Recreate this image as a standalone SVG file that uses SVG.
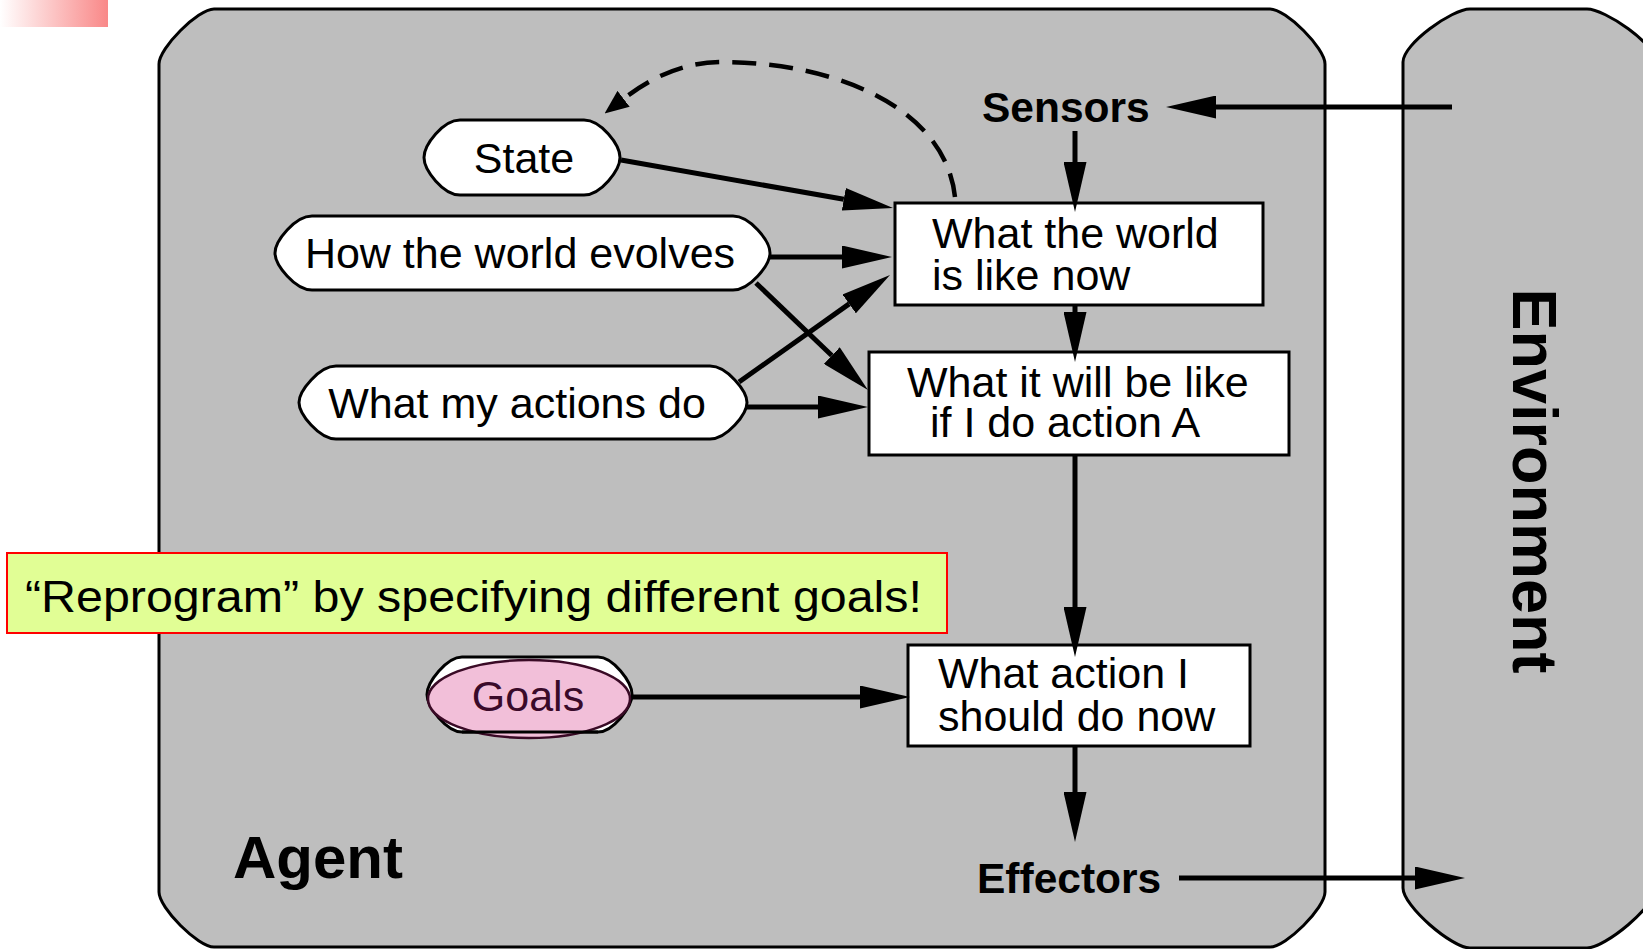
<svg xmlns="http://www.w3.org/2000/svg" width="1643" height="949" viewBox="0 0 1643 949">
<style>
.panel{fill:#bebebe;stroke:#000;stroke-width:3}
.node{fill:#fff;stroke:#000;stroke-width:3}
.lbl{font-family:"Liberation Sans",Arial,sans-serif;font-size:43px;fill:#000}
.big{font-family:"Liberation Sans",Arial,sans-serif;font-weight:bold;fill:#000}
.conn{fill:none;stroke:#000;stroke-width:5}
.dash{fill:none;stroke:#000;stroke-width:4.5;stroke-dasharray:24 13}
</style>
<defs>
<linearGradient id="pinkGrad" x1="0" y1="0" x2="1" y2="0">
<stop offset="0" stop-color="#ffffff"/>
<stop offset="1" stop-color="#f98888"/>
</linearGradient>
<marker id="ah" viewBox="0 0 50 23" refX="0" refY="11.5" markerWidth="50" markerHeight="23" markerUnits="userSpaceOnUse" orient="auto">
<path d="M0,0 L50,11.5 L0,23 Z" fill="#000"/>
</marker>
<marker id="ahs" viewBox="0 0 24 20" refX="2" refY="10" markerWidth="24" markerHeight="20" markerUnits="userSpaceOnUse" orient="auto">
<path d="M0,0 L24,10 L0,20 Z" fill="#000"/>
</marker>
</defs>

<rect x="0" y="0" width="108" height="27" fill="url(#pinkGrad)"/>

<g id="agent">
<path class="panel" d="M159,64 C159,48 198,9 214,9 L1270,9 C1286,9 1325,48 1325,64 L1325,892 C1325,908 1286,947 1270,947 L214,947 C198,947 159,908 159,892 Z"/>
<text class="big" x="233" y="878" font-size="60">Agent</text>
</g>

<g id="environment">
<path class="panel" d="M1403,62 C1403,44 1452,9 1470,9 L1587,9 C1605,9 1656,44 1656,62 L1656,888 C1656,906 1605,948 1587,948 L1470,948 C1452,948 1403,906 1403,888 Z"/>
<text class="big" font-size="63" text-anchor="middle" transform="translate(1513,481) rotate(90)" x="0" y="0">Environment</text>
</g>

<g id="sensors">
<text class="big" x="982" y="122" font-size="42.5">Sensors</text>
</g>

<g id="effectors">
<text class="big" x="977" y="893" font-size="42.5">Effectors</text>
</g>

<g id="state">
<path class="node" d="M460,120 H584 C601,120 620,145 620,157.5 C620,170 601,195 584,195 H460 C443,195 424,170 424,157.5 C424,145 443,120 460,120 Z"/>
<text class="lbl" x="524" y="173" text-anchor="middle">State</text>
</g>

<g id="evolves">
<path class="node" d="M312,216 H733 C750,216 770,241 770,253 C770,265 750,290 733,290 H312 C295,290 275,265 275,253 C275,241 295,216 312,216 Z"/>
<text class="lbl" x="520" y="268" text-anchor="middle">How the world evolves</text>
</g>

<g id="actions">
<path class="node" d="M336,366 H710 C727,366 747,391 747,402.5 C747,414 727,439 710,439 H336 C319,439 299,414 299,402.5 C299,391 319,366 336,366 Z"/>
<text class="lbl" x="517" y="418" text-anchor="middle">What my actions do</text>
</g>

<g id="goals">
<path class="node" d="M462,657 H598 C613,657 632,682 632,694.5 C632,707 613,732 598,732 H462 C447,732 427,707 427,694.5 C427,682 447,657 462,657 Z"/>
<ellipse cx="529" cy="699" rx="101" ry="39" fill="#f2bfd9" stroke="#3a0a26" stroke-width="2.5"/>
<path d="M462,732 H598" fill="none" stroke="#000" stroke-width="3"/>
<text class="lbl" x="528" y="711" text-anchor="middle" style="fill:#3a0a2a">Goals</text>
</g>

<g id="world-now">
<rect class="node" x="895" y="203" width="368" height="102"/>
<text class="lbl"><tspan x="932" y="248">What the world</tspan><tspan x="932" y="290">is like now</tspan></text>
</g>

<g id="will-be">
<rect class="node" x="869" y="352" width="420" height="103"/>
<text class="lbl"><tspan x="907" y="397">What it will be like</tspan><tspan x="930" y="437">if I do action A</tspan></text>
</g>

<g id="action-now">
<rect class="node" x="908" y="645" width="342" height="101"/>
<text class="lbl"><tspan x="938" y="688">What action I</tspan><tspan x="938" y="731">should do now</tspan></text>
</g>

<g id="note">
<rect x="7" y="553" width="940" height="80" fill="#e1fe95" stroke="#ff0000" stroke-width="2"/>
<text x="25" y="612" font-family="'Liberation Sans',Arial,sans-serif" font-size="44" textLength="897" lengthAdjust="spacingAndGlyphs" fill="#000">“Reprogram” by specifying different goals!</text>
</g>

<g id="connectors">
<line class="conn" x1="1452" y1="107" x2="1216" y2="107" marker-end="url(#ah)"/>
<line class="conn" x1="1075" y1="131" x2="1075" y2="162" marker-end="url(#ah)"/>
<line class="conn" x1="1075" y1="305" x2="1075" y2="312" marker-end="url(#ah)"/>
<line class="conn" x1="1075" y1="455" x2="1075" y2="607" marker-end="url(#ah)"/>
<line class="conn" x1="1075" y1="746" x2="1075" y2="792" marker-end="url(#ah)"/>
<line class="conn" x1="1179" y1="878" x2="1415" y2="878" marker-end="url(#ah)"/>
<line class="conn" x1="632" y1="697" x2="860" y2="697" marker-end="url(#ah)"/>
<line class="conn" x1="621" y1="160" x2="843.8" y2="199.3" marker-end="url(#ah)"/>
<line class="conn" x1="770" y1="257" x2="842" y2="257" marker-end="url(#ah)"/>
<line class="conn" x1="756" y1="283" x2="831.8" y2="355.5" marker-end="url(#ah)"/>
<line class="conn" x1="739" y1="382" x2="849.2" y2="303.9" marker-end="url(#ah)"/>
<line class="conn" x1="747" y1="407" x2="818" y2="407" marker-end="url(#ah)"/>
<path class="dash" d="M955,197 C945,105 830,62 722,62 C680,62 648,80 622,100" marker-end="url(#ahs)"/>
</g>
</svg>
